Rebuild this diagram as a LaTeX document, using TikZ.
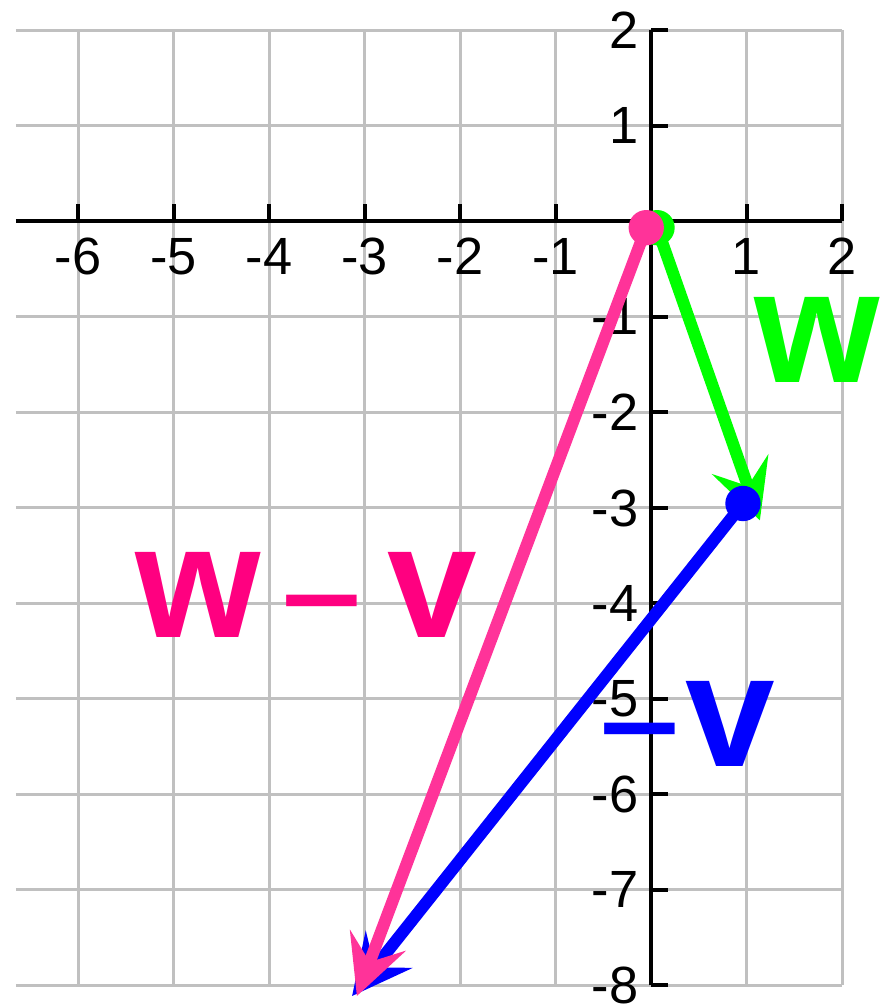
\documentclass[tikz,border=0pt]{standalone}
\usepackage{fontspec}
\setmainfont{Liberation Sans}
\usetikzlibrary{arrows.meta}
\definecolor{gridgray}{RGB}{192,192,192}
\definecolor{wgreen}{RGB}{0,255,0}
\definecolor{vblue}{RGB}{0,0,255}
\definecolor{diffpink}{RGB}{255,51,153}
\definecolor{difftext}{RGB}{255,0,128}
\newcommand{\ticklabel}{\fontsize{15.6}{18}\selectfont}
\newcommand{\veclabel}{\fontsize{48}{56}\selectfont\bfseries}
\newcommand{\vecminus}{\raisebox{-0.1em}{\mdseries\scalebox{0.9}[1]{−}}}

\begin{document}
\begin{tikzpicture} [x = 1cm, y = 1cm,
  vec/.style = {line width = 3.6pt, -{Stealth[length=0.62cm, width=0.62cm, inset=0.24cm]}},
  vecdot/.style = {circle, inner sep = 0pt, minimum size = 0.37cm},
  veclab/.style = {font = \veclabel, anchor = base, inner sep = 0pt}]
\useasboundingbox (-6.817,-8.194) rectangle (2.429,2.319);
% grid
\foreach \s in {-8,...,-1,1,2} {
\draw [gridgray, line width = 0.9pt] (-6.65,\s) -- (2,\s);
}
\foreach \s in {-6,...,-1,1,2} {
\draw [gridgray, line width = 0.9pt] (\s,-8) -- (\s,2);
}
% axes
\draw [line width = 1.2pt] (-6.65,0) -- (2,0);
\draw [line width = 1.2pt] (0,-8) -- (0,2);
\foreach \s in {-6,...,-1,1,2} {
\draw [line width = 1.2pt] (\s,0) -- (\s,0.18);
\node [font = \ticklabel, inner sep = 0pt] (xlab\s) at (\s,-0.365) {\s};
}
\foreach \s in {-8,...,-1,1,2} {
\draw [line width = 1.2pt] (0,\s) -- (0.18,\s);
\node [font = \ticklabel, inner sep = 0pt, anchor = east] (ylab\s) at (-0.125,\s) {\s};
}
\coordinate (whead) at (1.14,-3.13);
\coordinate (vhead) at (-3.13,-8.11);
\coordinate (dhead) at (-3.08,-8.11);
% w
\node [vecdot, fill = wgreen] (wdot) at (0.063,-0.065) {};
\draw [vec, wgreen] (wdot.center) -- (whead);
% -v
\node [vecdot, fill = vblue] (vdot) at (0.963,-2.953) {};
\draw [vec, vblue] (vdot.center) -- (vhead);
% w - v
\node [vecdot, fill = diffpink] (ddot) at (-0.05,-0.065) {};
\draw [vec, diffpink] (ddot.center) -- (dhead);
\node [veclab, wgreen] (wlab) at (1.738,-1.691) {w};
\node [veclab, vblue] (vlab) at (0.37,-5.702) {\vecminus\kern0.02em v};
\node [veclab, difftext] (dlab) at (-3.613,-4.361) {w\kern0.12em\vecminus\kern0.14em v};
\end{tikzpicture}
\end{document}
